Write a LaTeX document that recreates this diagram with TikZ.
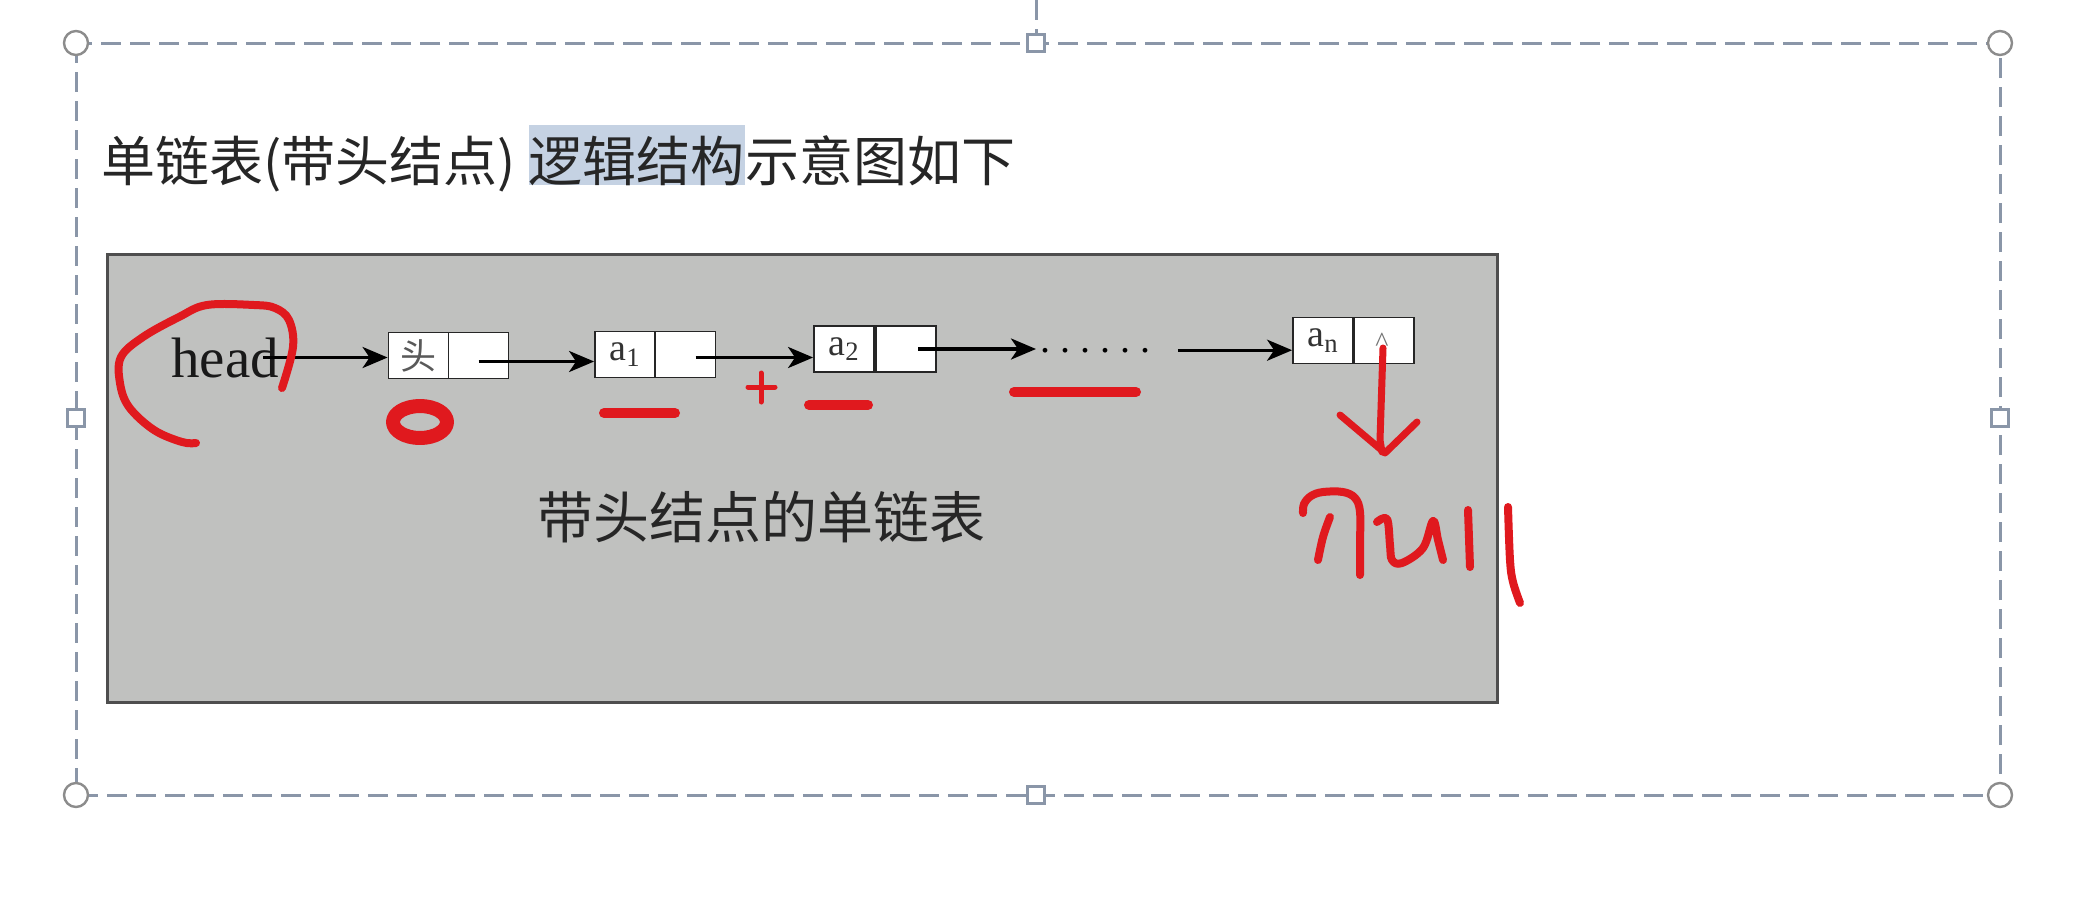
\documentclass[tikz,border=0pt]{standalone}
\usepackage{fontspec}
\setmainfont{Liberation Serif}
\newfontfamily\cjk{Noto Sans CJK SC}
\usetikzlibrary{arrows.meta}
\definecolor{selc}{HTML}{8A96A8}
\definecolor{handc}{HTML}{8C8C8C}
\definecolor{panel}{HTML}{C0C1BF}
\definecolor{panelb}{HTML}{4E4E4E}
\definecolor{hl}{HTML}{C5D2E3}
\definecolor{ink}{HTML}{E0191E}
\definecolor{txt}{HTML}{262626}
\begin{document}
\begin{tikzpicture}[x=0.5pt,y=-0.5pt,
  sel/.style={draw=selc, line width=1.5pt, dash pattern=on 10pt off 4.5pt},
  handle/.style={draw=handc, fill=white, line width=1.2pt, circle, minimum size=12pt, inner sep=0},
  sqhandle/.style={draw=selc, fill=white, line width=1.2pt, rectangle, minimum size=8.5pt, inner sep=0},
  titlef/.style={font=\cjk\fontsize{27pt}{27pt}\selectfont, text=txt, inner sep=0, anchor=base west},
  cell/.style={draw=black!85, fill=white, line width=0.9pt, minimum width=30pt, minimum height=23pt, inner sep=0},
  celltext/.style={font=\fontsize{19pt}{19pt}\selectfont, text=black!80},
  arr/.style={-{Stealth[length=12.5pt,width=10.5pt,inset=3.5pt]}, line width=1.7pt, black},
  pen/.style={draw=ink, line width=4pt, line cap=round, line join=round},
]
\useasboundingbox (0,0) rectangle (2088,916);
\fill[white] (0,0) rectangle (2088,916);

% selection frame
\draw[sel] (76,43) rectangle (2000,795);
\draw[sel] (1036,0) -- (1036,34);
\node[handle] (hc1) at (76,43) {};
\node[handle] (hc2) at (2000,43) {};
\node[handle] (hc3) at (76,795) {};
\node[handle] (hc4) at (2000,795) {};
\node[sqhandle] (hs1) at (1036,43) {};
\node[sqhandle] (hs2) at (76,418) {};
\node[sqhandle] (hs3) at (2000,418) {};
\node[sqhandle] (hs4) at (1036,795) {};

% title
\node[titlef] (t1) at (101,181) {单链表(带头结点)};
\node[titlef, fill=hl, text height=28pt, text depth=2pt] (t2) at ([xshift=6pt]t1.base east) {逻辑结构};
\node[titlef] (t3) at (t2.base east) {示意图如下};

% panel
\draw[draw=panelb, fill=panel, line width=1.5pt] (107,254) rectangle (1497,702);

% head
\node[font=\fontsize{28.5pt}{28.5pt}\selectfont, text=black!90, anchor=base west, inner sep=0] (head) at (171,377) {head};

% list nodes
\node[cell] (L0) at (418.5,355.5) {\cjk\fontsize{18pt}{18pt}\selectfont\color{black!65}头\hspace{3pt}};
\node[cell] (R0) at (478.5,355.5) {};
\node[cell, celltext] (L1) at (625,354.5) {a\textsubscript{1}\hspace{9pt}};
\node[cell] (R1) at (685.5,354.5) {};
\node[cell, celltext] (L2) at (844,349) {a\textsubscript{2}\hspace{9pt}};
\node[cell] (R2) at (906,349) {};
\node[cell, celltext] (Ln) at (1323,340.5) {a\textsubscript{n}\hspace{9pt}};
\node[cell] (Rn) at (1384,340.5) {};
\node[font=\fontsize{14pt}{14pt}\selectfont, text=black!55, inner sep=0] (caret) at (1382,342) {\textasciicircum};

\node[font=\fontsize{20pt}{20pt}\selectfont, anchor=base west, inner sep=0] (dots) at (1040,352) {.\kern5pt.\kern5pt.\kern5pt.\kern5pt.\kern5pt.};

% arrows
\draw[arr] ([xshift=-8pt]head.east) -- (L0.west |- head.east);
\draw[arr] ([yshift=-3pt]R0.center) -- ([yshift=-3pt]R0.center -| L1.west);
\draw[arr] ([xshift=5pt,yshift=-1.5pt]R1.center) -- ([yshift=-1.5pt]R1.center -| L2.west);
\draw[arr, shorten >=2pt] ([xshift=6pt]R2.center) -- (R2.center -| dots.west);
\draw[arr] ([xshift=13.5pt]dots.east) -- (dots.east -| Ln.west);

% caption
\node[font=\cjk\fontsize{28pt}{28pt}\selectfont, text=txt, anchor=base] (cap) at (761,538) {带头结点的单链表};

% red annotations
\draw[pen] plot[smooth, tension=0.6] coordinates {(282,388) (293,347) (289,320) (275,308) (254,305) (207,305) (179,317) (143,337) (121,357) (120,383) (129,407) (154,430) (182,442) (196,443)};
\draw[pen, line width=7pt] (420,422) ellipse [x radius=13.5pt, y radius=8pt];
\draw[pen, line width=5pt] (604,413) -- (675,413);
\draw[pen, line width=2.5pt] (748,387) -- (775,387);
\draw[pen, line width=2.5pt] (761,373) -- (761,402);
\draw[pen, line width=5pt] (809,405) -- (868,405);
\draw[pen, line width=5pt] (1014,392) -- (1136,392);
\draw[pen, line width=3.5pt] (1383,348) -- (1380,440) -- (1382,452);
\draw[pen, line width=3.5pt] (1340,415) -- (1385,453) -- (1417,422);
% handwritten "null"
\draw[pen] plot[smooth, tension=0.6] coordinates {(1303,513) (1304,504) (1311,496) (1323,492) (1343,492) (1355,498) (1360,512) (1360,545) (1360,575)};
\draw[pen] plot[smooth, tension=0.6] coordinates {(1330,517) (1323,537) (1318,560)};
\draw[pen] plot[smooth, tension=0.6] coordinates {(1377,522) (1387,519) (1390,545) (1392,560) (1402,563) (1423,548) (1433,521) (1438,540) (1443,560)};
\draw[pen] (1468,510) -- (1470,567);
\draw[pen] plot[smooth, tension=0.6] coordinates {(1508,507) (1510,560) (1513,582) (1520,603)};
\end{tikzpicture}
\end{document}
